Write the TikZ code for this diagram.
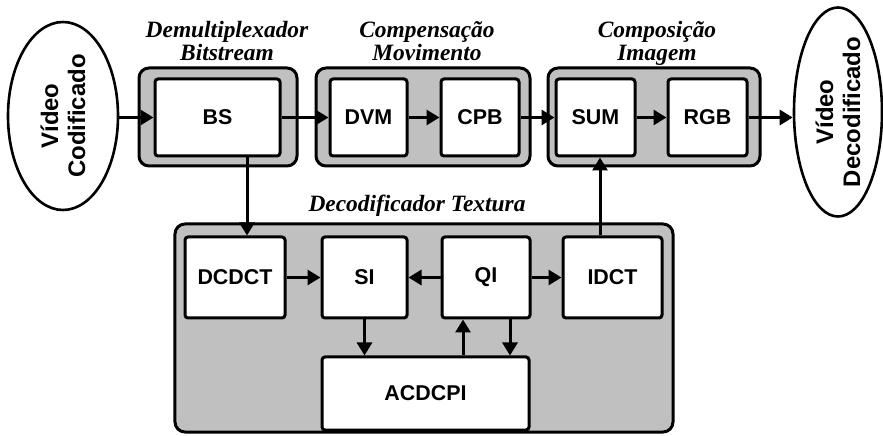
\documentclass[tikz,border=0pt]{standalone}
\usepackage{fontspec}
\setmainfont{Liberation Sans}
\newfontfamily\serifti{Liberation Serif}
\usetikzlibrary{arrows.meta,shapes.geometric}
\definecolor{grpgray}{RGB}{192,192,192}
\begin{document}
\begin{tikzpicture}[x=1bp,y=-1bp,
  blk/.style={draw, fill=white, line width=3bp, rounded corners=3bp, inner sep=0pt,
    font=\bfseries\fontsize{21.5}{21.5}\selectfont},
  grp/.style={draw, fill=grpgray, line width=3bp, rounded corners=10bp, inner sep=0pt},
  ttl/.style={font=\serifti\bfseries\itshape\fontsize{23.5}{23}\selectfont, align=center, inner sep=0pt},
  vid/.style={draw, ellipse, line width=2.6bp, inner sep=0pt},
  vidtxt/.style={rotate=90, align=center, font=\bfseries\fontsize{24}{27}\selectfont, inner sep=0pt},
  arr/.style={line width=3bp, -{Triangle[length=13bp,width=15bp]}}
]
\useasboundingbox (0,0) rectangle (883,436);
% group boxes
\node[grp, minimum width=158bp, minimum height=98bp] (g1) at (218,117) {};
\node[grp, minimum width=214bp, minimum height=98bp] (g2) at (423,117) {};
\node[grp, minimum width=212bp, minimum height=98bp] (g3) at (654,117) {};
\node[grp, minimum width=498bp, minimum height=208bp] (g4) at (424,328) {};
% titles
\node[ttl, anchor=north] (t1) at (227,21) {Demultiplexador\\Bitstream};
\node[ttl, anchor=north] (t2) at (427,21) {Compensação\\Movimento};
\node[ttl, anchor=north] (t3) at (657,21) {Composição\\Imagem};
\node[ttl, anchor=base] (t4) at (417,212) {Decodificador Textura};
% ellipses
\node[vid, minimum width=110bp, minimum height=188bp] (vin) at (63,116) {};
\node[vidtxt] (vintxt) at (vin.center) {Vídeo\\Codificado};
\node[vid, minimum width=88bp, minimum height=209bp] (vout) at (838,112) {};
\node[vidtxt] (vouttxt) at (vout.center) {Vídeo\\Decodificado};
% top blocks
\node[blk, minimum width=125bp, minimum height=77bp] (BS) at (217.5,117.5) {BS};
\node[blk, minimum width=77bp, minimum height=77bp] (DVM) at (368.5,117.5) {DVM};
\node[blk, minimum width=78bp, minimum height=77bp] (CPB) at (480,117.5) {CPB};
\node[blk, minimum width=79bp, minimum height=77bp] (SUM) at (595.5,117.5) {SUM};
\node[blk, minimum width=79bp, minimum height=77bp] (RGB) at (707.5,117.5) {RGB};
% bottom blocks
\node[blk, minimum width=100bp, minimum height=81bp] (DCDCT) at (235,277.5) {DCDCT};
\node[blk, minimum width=85bp, minimum height=81bp] (SI) at (364.5,277.5) {SI};
\node[blk, minimum width=88bp, minimum height=81bp] (QI) at (486,277.5) {QI};
\node[blk, minimum width=99bp, minimum height=81bp] (IDCT) at (612.5,277.5) {IDCT};
\node[blk, minimum width=207bp, minimum height=73bp] (ACDCPI) at (425.5,393.5) {ACDCPI};
% connectors
\draw[arr] (vin.east |- BS.west) -- (BS.west);
\draw[arr] (BS) -- (DVM);
\draw[arr] (DVM) -- (CPB);
\draw[arr] (CPB) -- (SUM);
\draw[arr] (SUM) -- (RGB);
\draw[arr] (RGB.east) -- (vout.west |- RGB.east);
\draw[arr] ([xshift=29.5bp]BS.south) -- ([xshift=29.5bp]BS.south |- DCDCT.north);
\draw[arr] ([xshift=-12.5bp]IDCT.north) -- ([xshift=-12.5bp]IDCT.north |- SUM.south);
\draw[arr] (DCDCT) -- (SI);
\draw[arr] (QI) -- (SI);
\draw[arr] (QI) -- (IDCT);
\draw[arr] (SI.south) -- (SI.south |- ACDCPI.north);
\draw[arr] ([xshift=-23bp]QI.south |- ACDCPI.north) -- ([xshift=-23bp]QI.south);
\draw[arr] ([xshift=24bp]QI.south) -- ([xshift=24bp]QI.south |- ACDCPI.north);
\end{tikzpicture}
\end{document}
